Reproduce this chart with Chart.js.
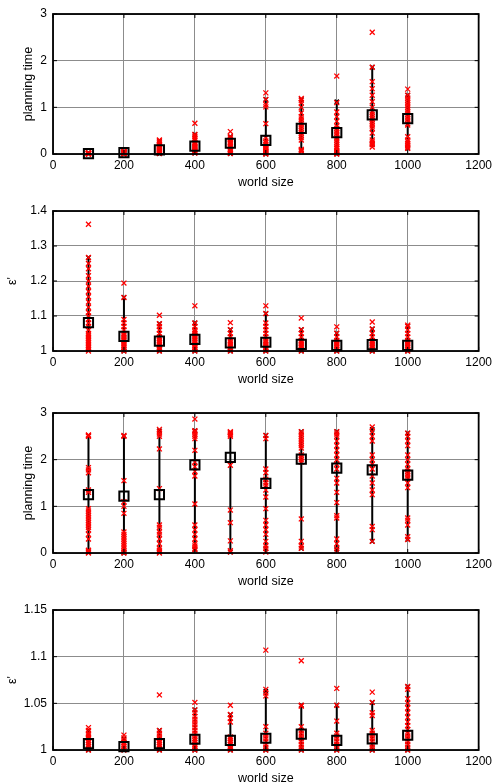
<!DOCTYPE html>
<html>
<head>
<meta charset="utf-8">
<script src="https://cdn.jsdelivr.net/npm/chart.js@4"></script>
<style>
  html, body { margin: 0; padding: 0; background: #fff; overflow: hidden; }
  body { width: 496px; height: 783px; position: relative; }
  .panel { position: absolute; left: 0; width: 496px; height: 190px; }
</style>
</head>
<body>
<div class="panel" style="top:0px"><canvas id="p1" width="496" height="190"></canvas></div>
<div class="panel" style="top:197px"><canvas id="p2" width="496" height="190"></canvas></div>
<div class="panel" style="top:399px"><canvas id="p3" width="496" height="190"></canvas></div>
<div class="panel" style="top:596px"><canvas id="p4" width="496" height="190"></canvas></div>
<script>
const worldSize = [100, 200, 300, 400, 500, 600, 700, 800, 900, 1000];
const xTicks = [0, 200, 400, 600, 800, 1000, 1200];

// panel 1: planning time
const timeTicksA = [0, 1, 2, 3];
const timeMeanA = [0.01, 0.03, 0.09, 0.17, 0.23, 0.29, 0.55, 0.46, 0.84, 0.76];
const timeLowA = [0, 0, 0.01, 0.02, 0.01, 0, 0.08, 0, 0.2, 0.12];
const timeHighA = [0.03, 0.06, 0.28, 0.42, 0.37, 1.17, 1.17, 1.12, 1.86, 1.26];
const timeRunsA = [
  [0, 0.005, 0.01, 0.01, 0.015, 0.02, 0.02, 0.03, 0, 0.01],
  [0, 0.01, 0.02, 0.03, 0.03, 0.04, 0.05, 0.02, 0.06, 0.01],
  [0.01, 0.03, 0.05, 0.07, 0.08, 0.1, 0.12, 0.15, 0.18, 0.2, 0.24, 0.28, 0.3, 0.02, 0.06],
  [0.02, 0.04, 0.06, 0.08, 0.1, 0.12, 0.14, 0.16, 0.19, 0.22, 0.25, 0.3, 0.34, 0.38, 0.42, 0.66],
  [0.01, 0.04, 0.07, 0.1, 0.13, 0.16, 0.19, 0.22, 0.25, 0.28, 0.31, 0.34, 0.37, 0.48],
  [0, 0.02, 0.04, 0.06, 0.08, 0.1, 0.12, 0.14, 0.17, 0.2, 0.24, 0.28, 0.34, 0.65, 1.01, 1.06, 1.17, 1.31],
  [0.05, 0.08, 0.1, 0.3, 0.35, 0.4, 0.45, 0.5, 0.55, 0.6, 0.65, 0.7, 0.75, 0.8, 0.88, 1.0, 1.1, 1.15, 1.19],
  [0, 0.02, 0.05, 0.08, 0.12, 0.15, 0.2, 0.25, 0.3, 0.35, 0.4, 0.45, 0.5, 0.55, 0.6, 0.7, 0.8, 0.9, 1.1, 1.67],
  [0.15, 0.2, 0.23, 0.26, 0.3, 0.45, 0.55, 0.6, 0.65, 0.7, 0.75, 0.8, 0.85, 0.9, 1.0, 1.12, 1.26, 1.4, 1.55, 1.86, 2.61],
  [0.12, 0.15, 0.18, 0.22, 0.26, 0.3, 0.37, 0.62, 0.65, 0.7, 0.75, 0.8, 0.85, 0.9, 0.95, 1.0, 1.05, 1.1, 1.15, 1.2, 1.26, 1.39]
];

// panel 2: epsilon'
const epsTicksA = [1, 1.1, 1.2, 1.3, 1.4];
const epsMeanA = [1.081, 1.042, 1.028, 1.033, 1.023, 1.025, 1.019, 1.016, 1.018, 1.016];
const epsLowA = [1.005, 1, 1, 1, 1, 1, 1, 1, 1, 1];
const epsHighA = [1.267, 1.153, 1.078, 1.08, 1.061, 1.107, 1.061, 1.051, 1.063, 1.071];
const epsRunsA = [
  [1, 1.005, 1.01, 1.015, 1.02, 1.025, 1.03, 1.035, 1.04, 1.045, 1.05, 1.06, 1.07, 1.08, 1.09, 1.1, 1.11, 1.125, 1.14, 1.155, 1.17, 1.185, 1.2, 1.215, 1.235, 1.25, 1.267, 1.362],
  [1, 1.005, 1.01, 1.015, 1.02, 1.025, 1.03, 1.035, 1.04, 1.045, 1.05, 1.06, 1.07, 1.08, 1.09, 1.153, 1.194],
  [1, 1.005, 1.01, 1.015, 1.02, 1.025, 1.03, 1.035, 1.04, 1.05, 1.06, 1.07, 1.078, 1.102],
  [1, 1.005, 1.01, 1.015, 1.02, 1.025, 1.03, 1.035, 1.04, 1.045, 1.05, 1.055, 1.06, 1.07, 1.08, 1.129],
  [1, 1.005, 1.01, 1.015, 1.02, 1.025, 1.03, 1.04, 1.05, 1.061, 1.081],
  [1, 1.005, 1.01, 1.015, 1.02, 1.025, 1.03, 1.04, 1.05, 1.06, 1.07, 1.08, 1.107, 1.129],
  [1, 1.005, 1.01, 1.015, 1.02, 1.025, 1.03, 1.04, 1.05, 1.061, 1.094],
  [1, 1.005, 1.01, 1.015, 1.02, 1.025, 1.03, 1.04, 1.051, 1.069],
  [1, 1.005, 1.01, 1.015, 1.02, 1.025, 1.03, 1.04, 1.05, 1.063, 1.083],
  [1, 1.005, 1.01, 1.015, 1.02, 1.025, 1.03, 1.04, 1.05, 1.06, 1.071, 1.074]
];

// panel 3: planning time
const timeTicksB = [0, 1, 2, 3];
const timeMeanB = [1.25, 1.22, 1.25, 1.89, 2.05, 1.49, 2.01, 1.82, 1.78, 1.67];
const timeLowB = [0.02, 0, 0.02, 0.07, 0.02, 0.09, 0.1, 0.08, 0.25, 0.29];
const timeHighB = [2.51, 2.51, 2.62, 2.62, 2.58, 2.52, 2.6, 2.6, 2.65, 2.57];
const timeRunsB = [
  [0, 0.02, 0.04, 0.06, 0.3, 0.4, 0.5, 0.55, 0.6, 0.65, 0.7, 0.75, 0.8, 0.85, 0.9, 0.95, 1.3, 1.35, 1.72, 1.78, 1.83, 2.5, 2.52, 2.53],
  [0, 0.02, 0.05, 0.1, 0.15, 0.2, 0.25, 0.3, 0.35, 0.4, 0.45, 0.85, 1.0, 1.1, 1.55, 2.5, 2.52],
  [0, 0.03, 0.06, 0.1, 0.2, 0.3, 0.4, 0.45, 0.55, 0.6, 1.38, 2.23, 2.5, 2.55, 2.6, 2.65],
  [0.07, 0.1, 0.15, 0.2, 0.3, 0.4, 0.5, 0.6, 1.05, 1.65, 1.75, 1.85, 1.95, 2.2, 2.45, 2.5, 2.55, 2.6, 2.62, 2.87],
  [0.02, 0.05, 0.26, 0.65, 0.92, 1.88, 2.5, 2.53, 2.55, 2.58, 2.6],
  [0.02, 0.1, 0.15, 0.25, 0.4, 0.5, 0.6, 0.7, 0.95, 1.2, 1.35, 1.45, 1.5, 1.58, 1.72, 1.8, 2.45, 2.52],
  [0.1, 0.15, 0.25, 0.73, 1.95, 2.0, 2.05, 2.1, 2.25, 2.3, 2.35, 2.4, 2.45, 2.5, 2.55, 2.6],
  [0.05, 0.1, 0.2, 0.3, 0.75, 0.8, 1.08, 1.3, 1.5, 1.6, 1.8, 1.9, 2.0, 2.1, 2.2, 2.3, 2.4, 2.5, 2.55, 2.6],
  [0.25, 0.5, 0.57, 1.25, 1.35, 1.5, 1.65, 1.8, 1.9, 2.0, 2.1, 2.4, 2.5, 2.6, 2.7],
  [0.29, 0.35, 0.6, 0.7, 0.75, 1.4, 1.5, 1.6, 1.65, 1.7, 1.75, 1.8, 1.9, 2.0, 2.1, 2.3, 2.4, 2.5, 2.57]
];

// panel 4: epsilon'
const epsTicksB = [1, 1.05, 1.1, 1.15];
const epsMeanB = [1.0068, 1.0036, 1.0068, 1.0115, 1.0104, 1.0126, 1.017, 1.0104, 1.012, 1.0158];
const epsLowB = [1, 1, 1, 1, 1, 1, 1, 1, 1, 1];
const epsHighB = [1.021, 1.012, 1.021, 1.043, 1.038, 1.063, 1.048, 1.048, 1.051, 1.068];
const epsRunsB = [
  [1, 1.002, 1.004, 1.006, 1.008, 1.01, 1.012, 1.014, 1.016, 1.018, 1.021, 1.024],
  [1, 1.002, 1.004, 1.006, 1.008, 1.01, 1.013, 1.016],
  [1, 1.002, 1.004, 1.006, 1.008, 1.01, 1.012, 1.015, 1.018, 1.021, 1.059],
  [1, 1.002, 1.004, 1.006, 1.008, 1.01, 1.012, 1.015, 1.018, 1.021, 1.024, 1.027, 1.03, 1.033, 1.036, 1.04, 1.043, 1.051],
  [1, 1.002, 1.004, 1.006, 1.008, 1.01, 1.012, 1.014, 1.03, 1.034, 1.038, 1.048],
  [1, 1.003, 1.006, 1.009, 1.012, 1.015, 1.018, 1.025, 1.058, 1.061, 1.065, 1.107],
  [1, 1.003, 1.006, 1.009, 1.012, 1.015, 1.018, 1.021, 1.025, 1.047, 1.048, 1.0956],
  [1, 1.003, 1.006, 1.009, 1.012, 1.015, 1.018, 1.031, 1.048, 1.066],
  [1, 1.003, 1.006, 1.009, 1.012, 1.015, 1.018, 1.021, 1.037, 1.04, 1.051, 1.062],
  [1, 1.003, 1.006, 1.009, 1.012, 1.015, 1.018, 1.022, 1.026, 1.03, 1.035, 1.04, 1.045, 1.05, 1.055, 1.065, 1.068]
];

Chart.defaults.font.family = '"Liberation Sans", Arial, sans-serif';
Chart.defaults.font.size = 12;
Chart.defaults.color = '#000';

// black frame + inward tick marks like matlab axes
const boxPlugin = {
  id: 'box',
  afterDraw(chart) {
    const { ctx, chartArea: a, scales } = chart;
    ctx.save();
    ctx.strokeStyle = '#000';
    ctx.lineWidth = 1;
    ctx.beginPath();
    scales.x.ticks.forEach(t => {
      const px = scales.x.getPixelForValue(t.value);
      ctx.moveTo(px, a.bottom); ctx.lineTo(px, a.bottom - 4);
      ctx.moveTo(px, a.top); ctx.lineTo(px, a.top + 4);
    });
    scales.y.ticks.forEach(t => {
      const py = scales.y.getPixelForValue(t.value);
      ctx.moveTo(a.left, py); ctx.lineTo(a.left + 4, py);
      ctx.moveTo(a.right, py); ctx.lineTo(a.right - 4, py);
    });
    ctx.stroke();
    ctx.lineWidth = 1.8;
    ctx.strokeRect(a.left, a.top, a.width, a.height);
    ctx.restore();
  }
};

function rangeLine(lows, highs) {
  const pts = [];
  worldSize.forEach((w, i) => {
    pts.push({ x: w, y: lows[i] }, { x: w, y: highs[i] }, { x: w, y: null });
  });
  return pts;
}

function runPoints(runs) {
  const pts = [];
  runs.forEach((vals, i) => vals.forEach(v => pts.push({ x: worldSize[i], y: v })));
  return pts;
}

function makePanel(id, means, lows, highs, runs, yTicks, yTitle, titlePad) {
  new Chart(document.getElementById(id), {
    type: 'scatter',
    data: {
      datasets: [
        {
          data: worldSize.map((w, i) => ({ x: w, y: means[i] })),
          pointStyle: 'rect',
          pointRadius: 6.5,
          borderColor: '#000',
          backgroundColor: 'rgba(0,0,0,0)',
          borderWidth: 2,
          clip: false,
          order: 0
        },
        {
          data: runPoints(runs),
          pointStyle: 'crossRot',
          pointRadius: 3.5,
          borderColor: '#ff0000',
          borderWidth: 1.3,
          clip: false,
          order: 1
        },
        {
          data: rangeLine(lows, highs),
          showLine: true,
          spanGaps: false,
          borderColor: '#000',
          borderWidth: 2,
          pointStyle: 'crossRot',
          pointRadius: 3,
          pointBorderWidth: 1.5,
          clip: false,
          order: 2
        }
      ]
    },
    options: {
      responsive: false,
      animation: false,
      events: [],
      layout: { padding: { top: 14, right: 14, left: 0, bottom: 0 } },
      plugins: { legend: { display: false }, tooltip: { enabled: false } },
      scales: {
        x: {
          type: 'linear',
          min: 0,
          max: 1200,
          afterBuildTicks: s => { s.ticks = xTicks.map(v => ({ value: v })); },
          afterFit: s => { s.height = 36; },
          grid: { color: '#8c8c8c', drawTicks: false },
          border: { display: false },
          ticks: { padding: 4, callback: v => String(v) },
          title: { display: true, text: 'world size', padding: 0, font: { size: 12.5 } }
        },
        y: {
          min: yTicks[0],
          max: yTicks[yTicks.length - 1],
          afterBuildTicks: s => { s.ticks = yTicks.map(v => ({ value: v })); },
          afterFit: s => { s.width = 53; },
          grid: { color: '#8c8c8c', drawTicks: false },
          border: { display: false },
          ticks: { padding: 6, callback: v => String(+v.toFixed(2)) },
          title: { display: true, text: yTitle, padding: { top: titlePad, bottom: 0 }, font: { size: 12.5 } }
        }
      }
    },
    plugins: [boxPlugin]
  });
}

makePanel('p1', timeMeanA, timeLowA, timeHighA, timeRunsA, timeTicksA, 'planning time', 21);
makePanel('p2', epsMeanA, epsLowA, epsHighA, epsRunsA, epsTicksA, "ε'", 5);
makePanel('p3', timeMeanB, timeLowB, timeHighB, timeRunsB, timeTicksB, 'planning time', 21);
makePanel('p4', epsMeanB, epsLowB, epsHighB, epsRunsB, epsTicksB, "ε'", 5);
</script>
</body>
</html>
